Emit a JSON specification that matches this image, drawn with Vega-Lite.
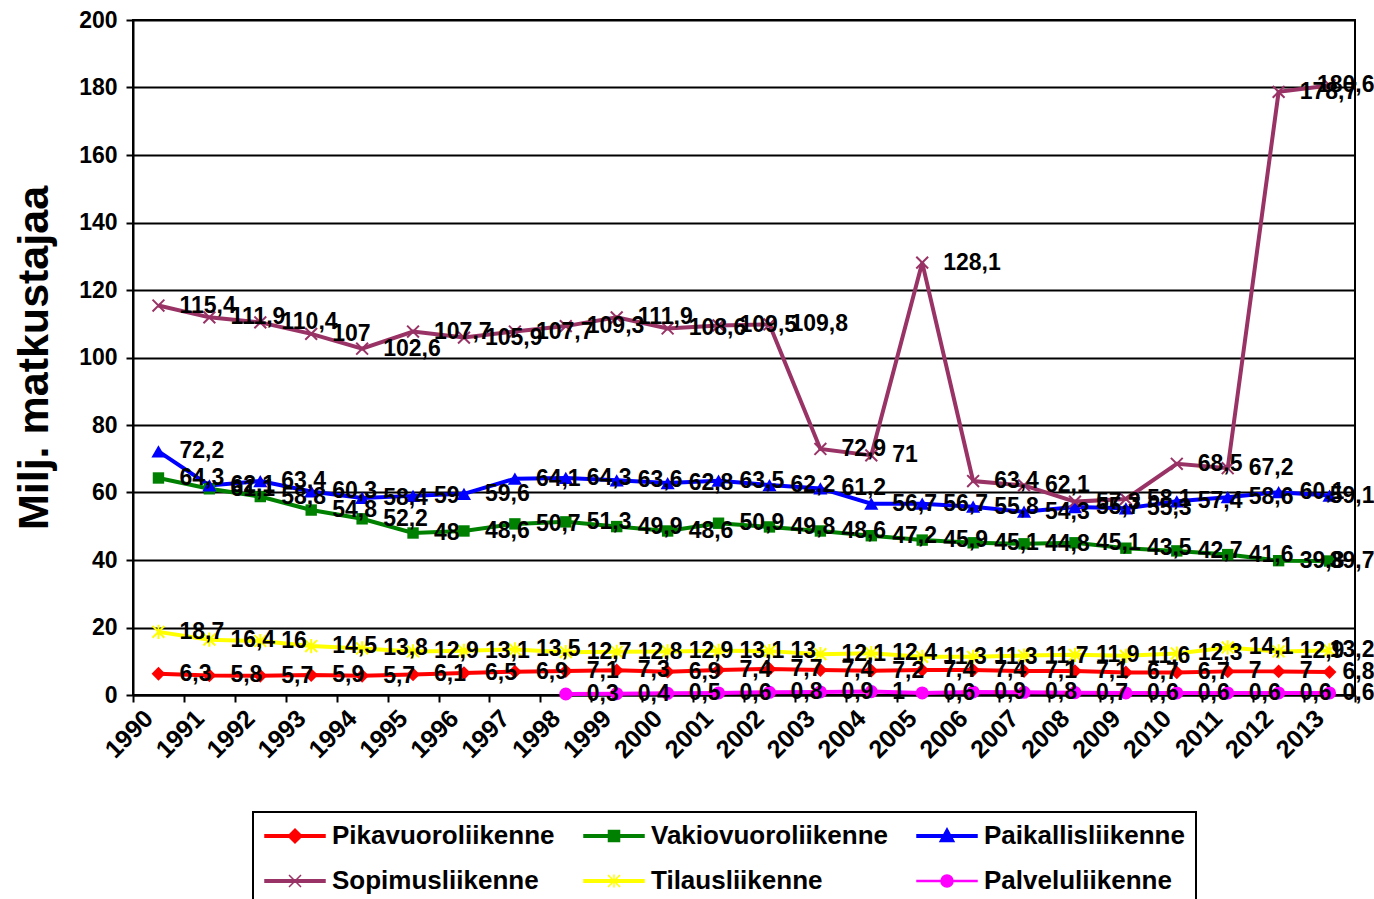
{
  "$schema": "https://vega.github.io/schema/vega-lite/v6.json",
  "width": 1222,
  "height": 675,
  "autosize": "none",
  "padding": {"left": 133, "top": 20, "right": 19, "bottom": 204},
  "background": "white",
  "config": {
    "locale": {"number": {"decimal": ",", "thousands": " ", "grouping": [3], "currency": ["", " €"]}},
    "view": {"stroke": "black", "strokeWidth": 2},
    "font": "Liberation Sans",
    "legend": {"strokeWidth": 2},
    "axis": {
      "labelFont": "Liberation Sans",
      "labelFontWeight": "bold",
      "labelColor": "black",
      "domainColor": "black",
      "domainWidth": 2,
      "tickColor": "black",
      "tickWidth": 2,
      "tickSize": 7
    }
  },
  "datasets": {
    "rows": [
      {"series": "Pikavuoroliikenne", "year": "1990", "value": 6.3},
      {"series": "Pikavuoroliikenne", "year": "1991", "value": 5.8},
      {"series": "Pikavuoroliikenne", "year": "1992", "value": 5.7},
      {"series": "Pikavuoroliikenne", "year": "1993", "value": 5.9},
      {"series": "Pikavuoroliikenne", "year": "1994", "value": 5.7},
      {"series": "Pikavuoroliikenne", "year": "1995", "value": 6.1},
      {"series": "Pikavuoroliikenne", "year": "1996", "value": 6.5},
      {"series": "Pikavuoroliikenne", "year": "1997", "value": 6.9},
      {"series": "Pikavuoroliikenne", "year": "1998", "value": 7.1},
      {"series": "Pikavuoroliikenne", "year": "1999", "value": 7.3},
      {"series": "Pikavuoroliikenne", "year": "2000", "value": 6.9},
      {"series": "Pikavuoroliikenne", "year": "2001", "value": 7.4},
      {"series": "Pikavuoroliikenne", "year": "2002", "value": 7.7},
      {"series": "Pikavuoroliikenne", "year": "2003", "value": 7.4},
      {"series": "Pikavuoroliikenne", "year": "2004", "value": 7.2},
      {"series": "Pikavuoroliikenne", "year": "2005", "value": 7.4},
      {"series": "Pikavuoroliikenne", "year": "2006", "value": 7.4},
      {"series": "Pikavuoroliikenne", "year": "2007", "value": 7.1},
      {"series": "Pikavuoroliikenne", "year": "2008", "value": 7.1},
      {"series": "Pikavuoroliikenne", "year": "2009", "value": 6.7},
      {"series": "Pikavuoroliikenne", "year": "2010", "value": 6.7},
      {"series": "Pikavuoroliikenne", "year": "2011", "value": 7},
      {"series": "Pikavuoroliikenne", "year": "2012", "value": 7},
      {"series": "Pikavuoroliikenne", "year": "2013", "value": 6.8},
      {"series": "Vakiovuoroliikenne", "year": "1990", "value": 64.3},
      {"series": "Vakiovuoroliikenne", "year": "1991", "value": 61.1},
      {"series": "Vakiovuoroliikenne", "year": "1992", "value": 58.8},
      {"series": "Vakiovuoroliikenne", "year": "1993", "value": 54.8},
      {"series": "Vakiovuoroliikenne", "year": "1994", "value": 52.2},
      {"series": "Vakiovuoroliikenne", "year": "1995", "value": 48},
      {"series": "Vakiovuoroliikenne", "year": "1996", "value": 48.6},
      {"series": "Vakiovuoroliikenne", "year": "1997", "value": 50.7},
      {"series": "Vakiovuoroliikenne", "year": "1998", "value": 51.3},
      {"series": "Vakiovuoroliikenne", "year": "1999", "value": 49.9},
      {"series": "Vakiovuoroliikenne", "year": "2000", "value": 48.6},
      {"series": "Vakiovuoroliikenne", "year": "2001", "value": 50.9},
      {"series": "Vakiovuoroliikenne", "year": "2002", "value": 49.8},
      {"series": "Vakiovuoroliikenne", "year": "2003", "value": 48.6},
      {"series": "Vakiovuoroliikenne", "year": "2004", "value": 47.2},
      {"series": "Vakiovuoroliikenne", "year": "2005", "value": 45.9},
      {"series": "Vakiovuoroliikenne", "year": "2006", "value": 45.1},
      {"series": "Vakiovuoroliikenne", "year": "2007", "value": 44.8},
      {"series": "Vakiovuoroliikenne", "year": "2008", "value": 45.1},
      {"series": "Vakiovuoroliikenne", "year": "2009", "value": 43.5},
      {"series": "Vakiovuoroliikenne", "year": "2010", "value": 42.7},
      {"series": "Vakiovuoroliikenne", "year": "2011", "value": 41.6},
      {"series": "Vakiovuoroliikenne", "year": "2012", "value": 39.8},
      {"series": "Vakiovuoroliikenne", "year": "2013", "value": 39.7},
      {"series": "Paikallisliikenne", "year": "1990", "value": 72.2},
      {"series": "Paikallisliikenne", "year": "1991", "value": 62.1},
      {"series": "Paikallisliikenne", "year": "1992", "value": 63.4},
      {"series": "Paikallisliikenne", "year": "1993", "value": 60.3},
      {"series": "Paikallisliikenne", "year": "1994", "value": 58.4},
      {"series": "Paikallisliikenne", "year": "1995", "value": 59},
      {"series": "Paikallisliikenne", "year": "1996", "value": 59.6},
      {"series": "Paikallisliikenne", "year": "1997", "value": 64.1},
      {"series": "Paikallisliikenne", "year": "1998", "value": 64.3},
      {"series": "Paikallisliikenne", "year": "1999", "value": 63.6},
      {"series": "Paikallisliikenne", "year": "2000", "value": 62.8},
      {"series": "Paikallisliikenne", "year": "2001", "value": 63.5},
      {"series": "Paikallisliikenne", "year": "2002", "value": 62.2},
      {"series": "Paikallisliikenne", "year": "2003", "value": 61.2},
      {"series": "Paikallisliikenne", "year": "2004", "value": 56.7},
      {"series": "Paikallisliikenne", "year": "2005", "value": 56.7},
      {"series": "Paikallisliikenne", "year": "2006", "value": 55.8},
      {"series": "Paikallisliikenne", "year": "2007", "value": 54.3},
      {"series": "Paikallisliikenne", "year": "2008", "value": 55.7},
      {"series": "Paikallisliikenne", "year": "2009", "value": 55.3},
      {"series": "Paikallisliikenne", "year": "2010", "value": 57.4},
      {"series": "Paikallisliikenne", "year": "2011", "value": 58.6},
      {"series": "Paikallisliikenne", "year": "2012", "value": 60.1},
      {"series": "Paikallisliikenne", "year": "2013", "value": 59.1},
      {"series": "Sopimusliikenne", "year": "1990", "value": 115.4},
      {"series": "Sopimusliikenne", "year": "1991", "value": 111.9},
      {"series": "Sopimusliikenne", "year": "1992", "value": 110.4},
      {"series": "Sopimusliikenne", "year": "1993", "value": 107},
      {"series": "Sopimusliikenne", "year": "1994", "value": 102.6},
      {"series": "Sopimusliikenne", "year": "1995", "value": 107.7},
      {"series": "Sopimusliikenne", "year": "1996", "value": 105.9},
      {"series": "Sopimusliikenne", "year": "1997", "value": 107.7},
      {"series": "Sopimusliikenne", "year": "1998", "value": 109.3},
      {"series": "Sopimusliikenne", "year": "1999", "value": 111.9},
      {"series": "Sopimusliikenne", "year": "2000", "value": 108.6},
      {"series": "Sopimusliikenne", "year": "2001", "value": 109.5},
      {"series": "Sopimusliikenne", "year": "2002", "value": 109.8},
      {"series": "Sopimusliikenne", "year": "2003", "value": 72.9},
      {"series": "Sopimusliikenne", "year": "2004", "value": 71},
      {"series": "Sopimusliikenne", "year": "2005", "value": 128.1},
      {"series": "Sopimusliikenne", "year": "2006", "value": 63.4},
      {"series": "Sopimusliikenne", "year": "2007", "value": 62.1},
      {"series": "Sopimusliikenne", "year": "2008", "value": 57.3},
      {"series": "Sopimusliikenne", "year": "2009", "value": 58.1},
      {"series": "Sopimusliikenne", "year": "2010", "value": 68.5},
      {"series": "Sopimusliikenne", "year": "2011", "value": 67.2},
      {"series": "Sopimusliikenne", "year": "2012", "value": 178.7},
      {"series": "Sopimusliikenne", "year": "2013", "value": 180.6},
      {"series": "Tilausliikenne", "year": "1990", "value": 18.7},
      {"series": "Tilausliikenne", "year": "1991", "value": 16.4},
      {"series": "Tilausliikenne", "year": "1992", "value": 16},
      {"series": "Tilausliikenne", "year": "1993", "value": 14.5},
      {"series": "Tilausliikenne", "year": "1994", "value": 13.8},
      {"series": "Tilausliikenne", "year": "1995", "value": 12.9},
      {"series": "Tilausliikenne", "year": "1996", "value": 13.1},
      {"series": "Tilausliikenne", "year": "1997", "value": 13.5},
      {"series": "Tilausliikenne", "year": "1998", "value": 12.7},
      {"series": "Tilausliikenne", "year": "1999", "value": 12.8},
      {"series": "Tilausliikenne", "year": "2000", "value": 12.9},
      {"series": "Tilausliikenne", "year": "2001", "value": 13.1},
      {"series": "Tilausliikenne", "year": "2002", "value": 13},
      {"series": "Tilausliikenne", "year": "2003", "value": 12.1},
      {"series": "Tilausliikenne", "year": "2004", "value": 12.4},
      {"series": "Tilausliikenne", "year": "2005", "value": 11.3},
      {"series": "Tilausliikenne", "year": "2006", "value": 11.3},
      {"series": "Tilausliikenne", "year": "2007", "value": 11.7},
      {"series": "Tilausliikenne", "year": "2008", "value": 11.9},
      {"series": "Tilausliikenne", "year": "2009", "value": 11.6},
      {"series": "Tilausliikenne", "year": "2010", "value": 12.3},
      {"series": "Tilausliikenne", "year": "2011", "value": 14.1},
      {"series": "Tilausliikenne", "year": "2012", "value": 12.9},
      {"series": "Tilausliikenne", "year": "2013", "value": 13.2},
      {"series": "Palveluliikenne", "year": "1998", "value": 0.3},
      {"series": "Palveluliikenne", "year": "1999", "value": 0.4},
      {"series": "Palveluliikenne", "year": "2000", "value": 0.5},
      {"series": "Palveluliikenne", "year": "2001", "value": 0.6},
      {"series": "Palveluliikenne", "year": "2002", "value": 0.8},
      {"series": "Palveluliikenne", "year": "2003", "value": 0.9},
      {"series": "Palveluliikenne", "year": "2004", "value": 1},
      {"series": "Palveluliikenne", "year": "2005", "value": 0.6},
      {"series": "Palveluliikenne", "year": "2006", "value": 0.9},
      {"series": "Palveluliikenne", "year": "2007", "value": 0.8},
      {"series": "Palveluliikenne", "year": "2008", "value": 0.7},
      {"series": "Palveluliikenne", "year": "2009", "value": 0.6},
      {"series": "Palveluliikenne", "year": "2010", "value": 0.6},
      {"series": "Palveluliikenne", "year": "2011", "value": 0.6},
      {"series": "Palveluliikenne", "year": "2012", "value": 0.6},
      {"series": "Palveluliikenne", "year": "2013", "value": 0.6}
    ]
  },
  "data": {"name": "rows"},
  "encoding": {
    "x": {
      "field": "year",
      "type": "ordinal",
      "bandPosition": 0.5,
      "scale": {"type": "band", "paddingInner": 0, "paddingOuter": 0},
      "axis": {
        "title": null,
        "grid": false,
        "tickBand": "extent",
        "labelAngle": -45,
        "labelAlign": "right",
        "labelBaseline": "middle",
        "labelFontSize": 25,
        "labelPadding": 12,
        "labelOffset": -10
      }
    },
    "y": {
      "field": "value",
      "type": "quantitative",
      "scale": {"domain": [0, 200], "nice": false},
      "axis": {
        "values": [0, 20, 40, 60, 80, 100, 120, 140, 160, 180, 200],
        "grid": true,
        "gridColor": "black",
        "gridWidth": 2,
        "labelFontSize": 23,
        "labelPadding": 9,
        "title": "Milj. matkustajaa",
        "titleFont": "Liberation Sans",
        "titleFontSize": 43,
        "titleFontWeight": "bold",
        "titleColor": "black",
        "titlePadding": 22
      }
    }
  },
  "layer": [
    {
      "mark": {"type": "line", "strokeWidth": 4},
      "encoding": {
        "color": {
          "field": "series",
          "type": "nominal",
          "scale": {
            "domain": ["Pikavuoroliikenne", "Vakiovuoroliikenne", "Paikallisliikenne", "Sopimusliikenne", "Tilausliikenne", "Palveluliikenne"],
            "range": ["#FF0000", "#008000", "#0000FF", "#993366", "#FFFF00", "#FF00FF"]
          },
          "legend": {
            "title": null,
            "orient": "none",
            "legendX": 120,
            "legendY": 792,
            "direction": "horizontal",
            "columns": 3,
            "gridAlign": "each",
            "columnPadding": 26,
            "rowPadding": 19,
            "padding": 11,
            "strokeColor": "black",
            "fillColor": "white",
            "symbolSize": 576,
            "labelOffset": 42,
            "labelFont": "Liberation Sans",
            "labelFontSize": 26,
            "labelFontWeight": "bold",
            "labelColor": "black",
            "labelLimit": 400,
            "encode": {
              "symbols": {
                "update": {
                  "shape": {"signal": "({'Pikavuoroliikenne':'M-1,-0.1H4V0.1H-1Z M0.92,0L1.5,-0.58L2.08,0L1.5,0.58Z','Vakiovuoroliikenne':'M-1,-0.1H4V0.1H-1Z M1.04,-0.46H1.96V0.46H1.04Z','Paikallisliikenne':'M-1,-0.1H4V0.1H-1Z M1.5,-0.62L2.08,0.45H0.92Z','Sopimusliikenne':'M-1,-0.1H4V0.1H-1Z M1,-0.5L2,0.5M1,0.5L2,-0.5','Tilausliikenne':'M-1,-0.1H4V0.1H-1Z M1,-0.5L2,0.5M1,0.5L2,-0.5M1.5,-0.55V0.55','Palveluliikenne':'M-1,-0.04H4V0.04H-1Z M1,0A0.5,0.5,0,1,0,2,0A0.5,0.5,0,1,0,1,0Z'})[datum.value]"},
                  "fill": {"signal": "scale('color', datum.value)"},
                  "stroke": {"signal": "scale('color', datum.value)"},
                  "strokeWidth": {"value": 1.5},
                  "opacity": {"value": 1},
                  "fillOpacity": {"value": 1},
                  "strokeOpacity": {"value": 1}
                }
              }
            }
          }
        }
      }
    },
    {
      "transform": [{"filter": "datum.series == 'Pikavuoroliikenne'"}],
      "mark": {"type": "point", "shape": "diamond", "filled": true, "opacity": 1, "color": "#FF0000", "size": 190}
    },
    {
      "transform": [{"filter": "datum.series == 'Vakiovuoroliikenne'"}],
      "mark": {"type": "point", "shape": "square", "filled": true, "opacity": 1, "color": "#008000", "size": 130}
    },
    {
      "transform": [{"filter": "datum.series == 'Paikallisliikenne'"}],
      "mark": {"type": "point", "shape": "triangle-up", "filled": true, "opacity": 1, "color": "#0000FF", "size": 200}
    },
    {
      "transform": [{"filter": "datum.series == 'Sopimusliikenne'"}],
      "mark": {"type": "point", "shape": "M-1,-1L1,1M-1,1L1,-1", "filled": false, "opacity": 1, "color": "#993366", "strokeWidth": 2, "size": 140}
    },
    {
      "transform": [{"filter": "datum.series == 'Tilausliikenne'"}],
      "mark": {"type": "point", "shape": "M-1,-1L1,1M-1,1L1,-1M0,-1.2V1.2", "filled": false, "opacity": 1, "color": "#FFFF00", "strokeWidth": 2, "size": 140}
    },
    {
      "transform": [{"filter": "datum.series == 'Palveluliikenne'"}],
      "mark": {"type": "point", "shape": "circle", "filled": true, "opacity": 1, "color": "#FF00FF", "size": 170}
    },
    {
      "transform": [{"filter": "datum.year != '2013'"}],
      "mark": {"type": "text", "align": "left", "baseline": "middle", "dx": 21, "font": "Liberation Sans", "fontSize": 23, "fontWeight": "bold", "color": "black"},
      "encoding": {
        "text": {"field": "value", "type": "quantitative", "format": "~g"}
      }
    },
    {
      "transform": [{"filter": "datum.year == '2013'"}],
      "mark": {"type": "text", "align": "right", "baseline": "middle", "dx": 45, "font": "Liberation Sans", "fontSize": 23, "fontWeight": "bold", "color": "black"},
      "encoding": {
        "text": {"field": "value", "type": "quantitative", "format": "~g"}
      }
    }
  ]
}
